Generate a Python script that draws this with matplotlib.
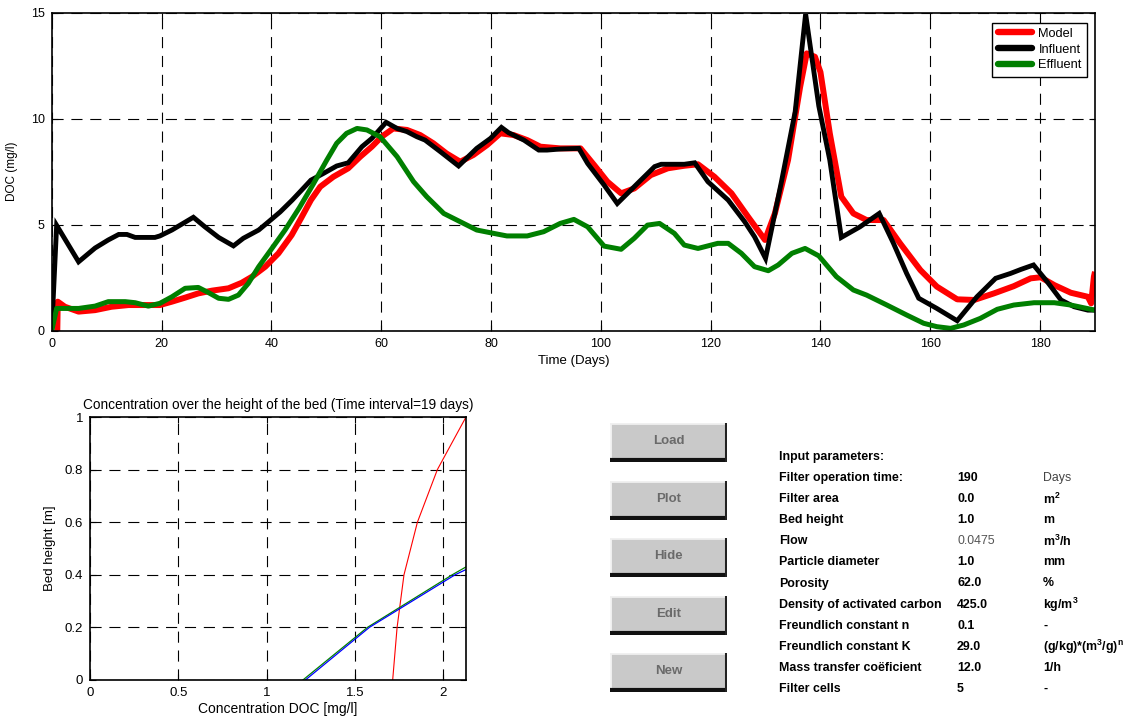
import matplotlib
matplotlib.use("Agg")
import matplotlib.pyplot as plt
from matplotlib.patches import Rectangle
from matplotlib.lines import Line2D

plt.rcParams['font.family'] = ['Liberation Sans', 'DejaVu Sans']
plt.rcParams['mathtext.default'] = 'regular'

# ---------------- data: top chart ----------------
influent_t = [0, 0.9, 4.9, 7.9, 10.3, 12.2, 13.7, 15.2, 18.8, 19.7, 21.9, 25.8, 27.9, 30.4,
              33.1, 34.9, 37.7, 39.5, 41.6, 43.8, 45.4, 47.2, 49.5, 51.9, 54.0, 56.5, 58.3,
              60.9, 62.9, 64.7, 66.5, 68.0, 70.8, 74.1, 77.4, 79.9, 81.9, 83.2, 86.0, 88.7,
              90.2, 92.6, 96.0, 97.6, 100.6, 103.0, 106.7, 109.8, 111.0, 115.2, 117.1,
              119.5, 123.2, 126.2, 128.0, 130.0, 132.9, 135.4, 137.3, 139.7, 141.7, 143.8,
              147.2, 150.7, 153.3, 155.7, 157.9, 161.2, 164.9, 168.5, 171.9, 174.6, 176.5,
              178.8, 181.3, 183.8, 186.2, 188.7, 190]
influent_v = [0, 4.97, 3.25, 3.9, 4.28, 4.54, 4.54, 4.4, 4.4, 4.47, 4.75, 5.35, 4.9, 4.4,
              4.0, 4.36, 4.75, 5.14, 5.6, 6.16, 6.6, 7.1, 7.42, 7.77, 7.92, 8.68, 9.07,
              9.83, 9.54, 9.39, 9.15, 8.99, 8.44, 7.77, 8.6, 9.07, 9.59, 9.34, 8.99, 8.52,
              8.52, 8.57, 8.6, 7.89, 6.87, 6.0, 6.95, 7.74, 7.85, 7.85, 7.92,
              7.03, 6.16, 5.14, 4.43, 3.41, 7.03, 10.33, 14.94, 10.6, 8.05, 4.4,
              4.9, 5.53, 4.12, 2.7, 1.53, 1.05, 0.47, 1.6, 2.47, 2.7, 2.89,
              3.1, 2.31, 1.45, 1.13, 0.97, 0.97]

model_t = [1.0, 1.1, 2.4, 4.9, 7.9, 10.9, 14.0, 17.0, 19.7, 21.9, 24.3, 26.7, 29.2, 32.2,
           34.6, 36.5, 38.9, 41.3, 43.7, 45.4, 47.2, 48.9, 51.3, 54.0, 56.2, 58.3, 60.1,
           62.2, 64.7, 67.1, 69.5, 71.9, 74.4, 76.8, 79.3, 81.7, 84.1, 86.6, 89.0, 92.6,
           96.3, 98.8, 101.2, 103.7, 106.1, 109.1, 112.2, 115.2, 117.7, 120.7, 123.8,
           126.8, 129.9, 131.7, 134.1, 136.3, 137.5, 139.0, 140.0, 141.7, 143.8, 146.0,
           148.4, 151.5, 154.5, 158.2, 161.2, 164.9, 168.0, 171.6, 175.2, 178.3, 180.1,
           182.6, 185.6, 188.7, 189.3, 189.8, 190]
model_v = [-0.3, 1.37, 1.13, 0.9, 0.97, 1.13, 1.21, 1.21, 1.21, 1.37, 1.56, 1.76, 1.89, 2.0,
           2.26, 2.55, 3.02, 3.65, 4.51, 5.3, 6.16, 6.79, 7.26, 7.66, 8.21, 8.68, 9.15,
           9.54, 9.47, 9.23, 8.84, 8.36, 7.97, 8.29, 8.76, 9.31, 9.23, 8.99, 8.68, 8.6,
           8.6, 7.81, 7.03, 6.48, 6.71, 7.34, 7.66, 7.78, 7.85, 7.26, 6.48,
           5.38, 4.28, 5.53, 8.05, 11.5, 13.08, 12.92, 12.2, 9.31, 6.32, 5.53,
           5.22, 5.22, 4.12, 2.86, 2.08, 1.48, 1.45, 1.76, 2.1, 2.47, 2.52,
           2.15, 1.79, 1.6, 1.29, 2.55, 2.78]

effluent_t = [0, 0.9, 4.9, 7.9, 10.3, 13.4, 15.2, 17.6, 19.7, 21.9, 24.3, 26.7, 28.6, 30.4,
              32.2, 34.0, 35.8, 37.7, 40.1, 42.5, 45.1, 47.6, 50.1, 51.9, 53.7, 55.6, 57.4,
              59.8, 62.9, 65.9, 68.3, 71.4, 74.4, 77.4, 80.5, 82.9, 86.6, 89.6, 92.6, 95.1,
              97.6, 100.6, 103.7, 106.1, 108.5, 110.7, 113.4, 115.2, 117.7, 121.3, 123.2,
              125.6, 128.0, 130.5, 132.3, 134.8, 137.2, 139.7, 142.9, 146.0, 148.4, 152.1,
              155.7, 158.8, 161.2, 163.7, 166.1, 169.1, 172.2, 175.2, 178.9, 182.6, 185.6,
              190]
effluent_v = [0, 1.05, 1.05, 1.16, 1.37, 1.37, 1.32, 1.16, 1.29, 1.6, 2.0, 2.04, 1.79, 1.53,
              1.48, 1.68, 2.23, 3.02, 3.88, 4.75, 5.8, 6.9, 8.05, 8.84, 9.31, 9.54, 9.47,
              9.15, 8.21, 7.03, 6.32, 5.53, 5.14, 4.75, 4.59, 4.47, 4.47, 4.67, 5.06, 5.25,
              4.9, 3.99, 3.84, 4.36, 4.98, 5.06, 4.59, 4.04, 3.88, 4.12, 4.12,
              3.65, 3.02, 2.83, 3.1, 3.65, 3.88, 3.53, 2.55, 1.92, 1.68, 1.21,
              0.74, 0.35, 0.19, 0.11, 0.27, 0.58, 1.01, 1.21, 1.32, 1.32, 1.21,
              0.97]

series_labels = ["Model", "Influent", "Effluent"]
top_xticks = [0, 20, 40, 60, 80, 100, 120, 140, 160, 180]
top_yticks = [0, 5, 10, 15]

# ---------------- data: bed profile chart ----------------
bed_height = [0.0, 0.2, 0.4, 0.6, 0.8, 1.0]
profile_red = [1.713, 1.738, 1.777, 1.853, 1.966, 2.128]
profile_green_x = [1.205, 1.570, 2.050, 2.128]
profile_green_y = [0.0, 0.2, 0.4, 0.43]
profile_blue_x = [1.219, 1.581, 2.066, 2.128]
profile_blue_y = [0.0, 0.2, 0.4, 0.42]
bot_xticks = [0, 0.5, 1, 1.5, 2]
bot_yticks = [0, 0.2, 0.4, 0.6, 0.8, 1]

# ---------------- data: buttons and parameter table ----------------
buttons = ["Load", "Plot", "Hide", "Edit", "New"]
param_names = ["Filter operation time:", "Filter area", "Bed height", "Flow",
               "Particle diameter", "Porosity", "Density of activated carbon",
               "Freundlich constant n", "Freundlich constant K",
               "Mass transfer co\u00ebficient", "Filter cells"]
param_values = ["190", "0.0", "1.0", "0.0475", "1.0", "62.0", "425.0", "0.1", "29.0",
                "12.0", "5"]
param_units = ["Days", "m$^2$", "m", "m$^3$/h", "mm", "%", "kg/m$^3$", "-",
               "(g/kg)*(m$^3$/g)$^n$", "1/h", "-"]

W, H = 1129, 722
fig = plt.figure(figsize=(W / 100, H / 100), dpi=100)
fig.patch.set_facecolor('white')


def px_axes(l, t, r, b):
    return fig.add_axes([l / W, 1 - b / H, (r - l) / W, (b - t) / H])


grid_kw = dict(color='black', linestyle=(0, (10, 7)), linewidth=0.8)

# ---------------- top chart ----------------
ax = px_axes(51.7, 12.7, 1095, 330.7)
ax.plot(model_t, model_v, color='#ff0000', lw=4.3, label=series_labels[0],
        solid_capstyle='butt', solid_joinstyle='round')
ax.plot(influent_t, influent_v, color='black', lw=3.5, label=series_labels[1],
        solid_joinstyle='miter')
ax.plot(effluent_t, effluent_v, color='#007f00', lw=3.6, label=series_labels[2],
        solid_joinstyle='round')
ax.set_xlim(0, 190)
ax.set_ylim(0, 15)
ax.set_xticks(top_xticks)
ax.set_yticks(top_yticks)
ax.grid(True, **grid_kw)
ax.tick_params(direction='in', length=4, labelsize=9, pad=5, top=True, right=True)
for s in ax.spines.values():
    s.set_linewidth(1.2)
ax.set_xlabel("Time (Days)", fontsize=9.5, labelpad=4)
ax.set_ylabel("DOC (mg/l)", fontsize=8.5, labelpad=9)
leg = ax.legend(loc='upper right', bbox_to_anchor=(0.9923, 0.9686), borderaxespad=0,
                fontsize=9.2, fancybox=False, edgecolor='black', framealpha=1,
                handlelength=2.7, handletextpad=0.5, labelspacing=0.3, borderpad=0.4)
leg.get_frame().set_linewidth(1.0)
for h in leg.get_lines():
    h.set_linewidth(4.6)
    h.set_solid_capstyle('round')

# ---------------- bed profile chart ----------------
ax2 = px_axes(90, 417, 466, 680)
ax2.plot(profile_red, bed_height, color='red', lw=0.8)
ax2.plot(profile_green_x, profile_green_y, color='#008000', lw=0.9)
ax2.plot(profile_blue_x, profile_blue_y, color='blue', lw=0.9)
ax2.set_xlim(0, 2.128)
ax2.set_ylim(0, 1)
ax2.set_xticks(bot_xticks)
ax2.set_xticklabels(["0", "0.5", "1", "1.5", "2"])
ax2.set_yticks(bot_yticks)
ax2.set_yticklabels(["0", "0.2", "0.4", "0.6", "0.8", "1"])
ax2.grid(True, **grid_kw)
ax2.tick_params(direction='in', length=4, labelsize=9.5, pad=5, top=True, right=True)
for s in ax2.spines.values():
    s.set_linewidth(1.2)
ax2.set_xlabel("Concentration DOC [mg/l]", fontsize=10, labelpad=2)
ax2.set_ylabel("Bed height [m]", fontsize=9.5, labelpad=6)
ax2.set_title("Concentration over the height of the bed (Time interval=19 days)",
              fontsize=9.8, pad=6)

# ---------------- buttons ----------------
btn_top = [423, 481, 538, 596, 653]
for name, top in zip(buttons, btn_top):
    l, r, t, b = 610, 727, top, top + 39
    axb = px_axes(l, t, r, b)
    axb.set_xlim(0, 1)
    axb.set_ylim(0, 1)
    axb.axis('off')
    axb.add_patch(Rectangle((0, 0), 1, 1, facecolor='#c9c9c9', edgecolor='none'))
    axb.add_line(Line2D([0, 0], [0.05, 1], color='#f4f4f4', lw=2))
    axb.add_line(Line2D([0, 1], [0.99, 0.99], color='#f0f0f0', lw=2))
    axb.add_line(Line2D([0, 1], [0.04, 0.04], color='#111111', lw=3))
    axb.add_line(Line2D([0.995, 0.995], [0, 1], color='#222222', lw=2.2))
    axb.text(0.5, 0.55, name, ha='center', va='center', fontsize=9.5,
             color='#5a5a5a', fontweight='bold', alpha=0.85)

# ---------------- parameter table ----------------
fs = 8.9
fig.text(779 / W, 1 - 457 / H, "Input parameters:", fontsize=fs, fontweight='bold',
         va='center', ha='left')
row0 = 478
dy = 21.1
for i, (n, v, u) in enumerate(zip(param_names, param_values, param_units)):
    y = 1 - (row0 + i * dy) / H
    fig.text(779 / W, y, n, fontsize=fs, fontweight='bold', va='center', ha='left')
    light = v == "0.0475"
    fig.text(957 / W, y, v, fontsize=fs, fontweight='normal' if light else 'bold',
             color='#555555' if light else 'black', va='center', ha='left')
    fig.text(1043 / W, y, u, fontsize=fs,
             fontweight='normal' if u == "Days" else 'bold',
             color='#444444' if u == "Days" else 'black', va='center', ha='left')

fig.savefig("out.png", dpi=100, facecolor='white')
